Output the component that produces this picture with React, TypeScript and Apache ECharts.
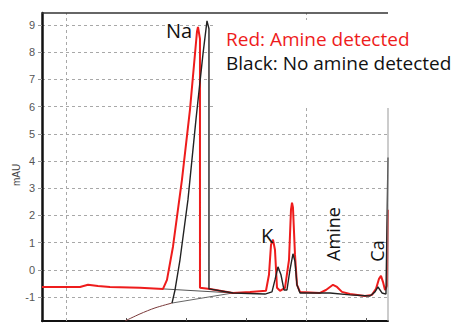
import React, { useEffect, useRef } from "react";
import * as echarts from "echarts";

// Axis ticks (mAU) and time ticks (min)
const yTicks = [-1, 0, 1, 2, 3, 4, 5, 6, 7, 8, 9];
const xTicks = [4, 5, 6, 7, 8, 9];
const xGridLines = [4, 8];

// Red: Amine detected  [time, mAU]
const redTrace: [number, number][] = [
  [3.6, -0.63], [4.233, -0.63], [4.367, -0.55], [4.533, -0.59], [4.733, -0.63],
  [5.233, -0.66], [5.617, -0.7], [5.683, -0.37], [5.783, 0.85], [5.933, 3.32],
  [6.067, 5.9], [6.183, 8.75], [6.2, 8.93], [6.233, 8.49], [6.233, -0.66],
  [6.4, -0.7], [6.783, -0.85], [7.067, -0.81], [7.333, -0.77], [7.383, -0.18],
  [7.417, 0.92], [7.45, 1.11], [7.483, 0.74], [7.517, -0.66], [7.567, -0.77],
  [7.65, -0.66], [7.717, 0.37], [7.75, 2.21], [7.767, 2.47], [7.783, 2.29],
  [7.817, 0.55], [7.85, -0.55], [7.9, -0.81], [8.233, -0.85], [8.333, -0.74],
  [8.4, -0.63], [8.45, -0.55], [8.517, -0.63], [8.6, -0.81], [8.733, -0.89],
  [8.983, -0.96], [9.1, -0.92], [9.167, -0.7], [9.217, -0.33], [9.25, -0.22],
  [9.283, -0.44], [9.317, -0.74], [9.35, -0.59], [9.367, 2.21],
];

// Black: No amine detected
const blackTrace: [number, number][] = [
  [5.767, -1.22], [5.817, -0.74], [5.9, 0.37], [6.033, 2.58], [6.167, 5.54],
  [6.283, 7.93], [6.35, 9.15], [6.383, 8.86], [6.383, -0.7], [6.783, -0.85],
  [7.317, -0.89], [7.433, -0.81], [7.483, -0.37], [7.533, 0.11], [7.583, -0.18],
  [7.633, -0.74], [7.683, -0.74], [7.733, 0.0], [7.783, 0.59], [7.817, 0.3],
  [7.85, -0.55], [7.9, -0.85], [8.4, -0.85], [8.733, -0.92], [9.067, -0.96],
  [9.15, -0.81], [9.2, -0.63], [9.267, -0.85], [9.333, -0.89], [9.367, 4.13],
];

// Leading drift of the black run (below the window)
const blackDrift: [number, number][] = [
  [4.983, -1.88], [5.233, -1.62], [5.483, -1.4], [5.767, -1.22],
];

// Integration baselines under the Na peak
const baselineRed: [number, number][] = [[5.617, -0.7], [6.783, -0.85]];
const baselineBlack: [number, number][] = [[5.767, -1.22], [6.783, -0.85]];

const RED = "#ee1c1c";
const BLACK = "#222222";
const GRID = "#a8a8a8";
const ANN_FONT = "'Open Sans', 'Liberation Sans', sans-serif";

export default function App() {
  const ref = useRef<HTMLDivElement>(null);

  useEffect(() => {
    if (!ref.current) return;
    const chart = echarts.init(ref.current, undefined, { renderer: "svg" });

    const option: any = {
      animation: false,
      backgroundColor: "#ffffff",
      grid: { left: 42, top: 13, right: 67, bottom: 2, containLabel: false },
      xAxis: {
        type: "value",
        min: 3.6,
        max: 9.367,
        axisLine: { show: true, onZero: false, lineStyle: { color: "#111", width: 2 } },
        axisTick: { show: true, customValues: xTicks, inside: true, length: 3, lineStyle: { color: "#555" } },
        axisLabel: { show: false },
        splitLine: { show: false },
      },
      yAxis: {
        type: "value",
        min: -1.88,
        max: 9.44,
        axisLine: { show: true, onZero: false, lineStyle: { color: "#111", width: 2.5 } },
        axisTick: { show: true, customValues: yTicks, length: 4, lineStyle: { color: "#999" } },
        axisLabel: {
          customValues: yTicks,
          margin: 7,
          color: "#555",
          fontSize: 11,
          fontFamily: "'Liberation Sans', Arial, sans-serif",
        },
        splitLine: { show: true, lineStyle: { color: GRID, type: [3, 3], width: 1 } },
      },
      series: [
        {
          type: "line",
          name: "drift",
          data: blackDrift,
          showSymbol: false,
          smooth: 0.3,
          lineStyle: { color: "#7a3a3a", width: 1 },
          z: 2,
          markLine: {
            silent: true,
            symbol: "none",
            label: { show: false },
            lineStyle: { color: GRID, type: [3, 3], width: 1 },
            data: xGridLines.map((v) => ({ xAxis: v })),
          },
        },
        {
          type: "line",
          name: "baseline red",
          data: baselineRed,
          showSymbol: false,
          lineStyle: { color: "#555", width: 1 },
          z: 2,
        },
        {
          type: "line",
          name: "baseline black",
          data: baselineBlack,
          showSymbol: false,
          lineStyle: { color: "#666", width: 1 },
          z: 2,
        },
        {
          type: "line",
          name: "Red: Amine detected",
          data: redTrace,
          showSymbol: false,
          lineStyle: { color: RED, width: 2 },
          z: 3,
        },
        {
          type: "line",
          name: "Black: No amine detected",
          data: blackTrace,
          showSymbol: false,
          lineStyle: { color: BLACK, width: 1.4 },
          z: 4,
        },
      ],
      graphic: [
        { type: "line", z: 50, shape: { x1: 42, y1: 13, x2: 388, y2: 13 }, style: { stroke: "#333", lineWidth: 1.5 } },
        { type: "line", z: 50, shape: { x1: 388, y1: 108, x2: 388, y2: 321 }, style: { stroke: "#999", lineWidth: 1 } },
        { type: "rect", z: 60, shape: { x: 215, y: 20, width: 240, height: 88 }, style: { fill: "#ffffff" } },
        {
          type: "text", z: 70, x: 226, y: 39,
          style: { text: "Red: Amine detected", fill: RED, font: `19px ${ANN_FONT}`, verticalAlign: "middle", align: "left" },
        },
        {
          type: "text", z: 70, x: 226, y: 63,
          style: { text: "Black: No amine detected", fill: "#111", font: `19px ${ANN_FONT}`, verticalAlign: "middle", align: "left" },
        },
        {
          type: "text", z: 70, x: 166, y: 30,
          style: { text: "Na", fill: "#111", font: `20px ${ANN_FONT}`, verticalAlign: "middle", align: "left" },
        },
        {
          type: "text", z: 70, x: 261, y: 235,
          style: { text: "K", fill: "#111", font: `20px ${ANN_FONT}`, verticalAlign: "middle", align: "left" },
        },
        {
          type: "text", z: 70, x: 333, y: 234, rotation: Math.PI / 2,
          style: { text: "Amine", fill: "#111", font: `18px ${ANN_FONT}`, verticalAlign: "middle", align: "center" },
        },
        {
          type: "text", z: 70, x: 377, y: 251, rotation: Math.PI / 2,
          style: { text: "Ca", fill: "#111", font: `18px ${ANN_FONT}`, verticalAlign: "middle", align: "center" },
        },
        {
          type: "text", z: 70, x: 16, y: 175, rotation: Math.PI / 2,
          style: { text: "mAU", fill: "#444", font: "10px 'Liberation Sans', Arial, sans-serif", verticalAlign: "middle", align: "center" },
        },
      ],
    };

    chart.setOption(option);
    return () => chart.dispose();
  }, []);

  return (
    <div
      ref={ref}
      style={{ position: "fixed", left: 0, top: 0, width: 455, height: 323, background: "#fff" }}
    />
  );
}
